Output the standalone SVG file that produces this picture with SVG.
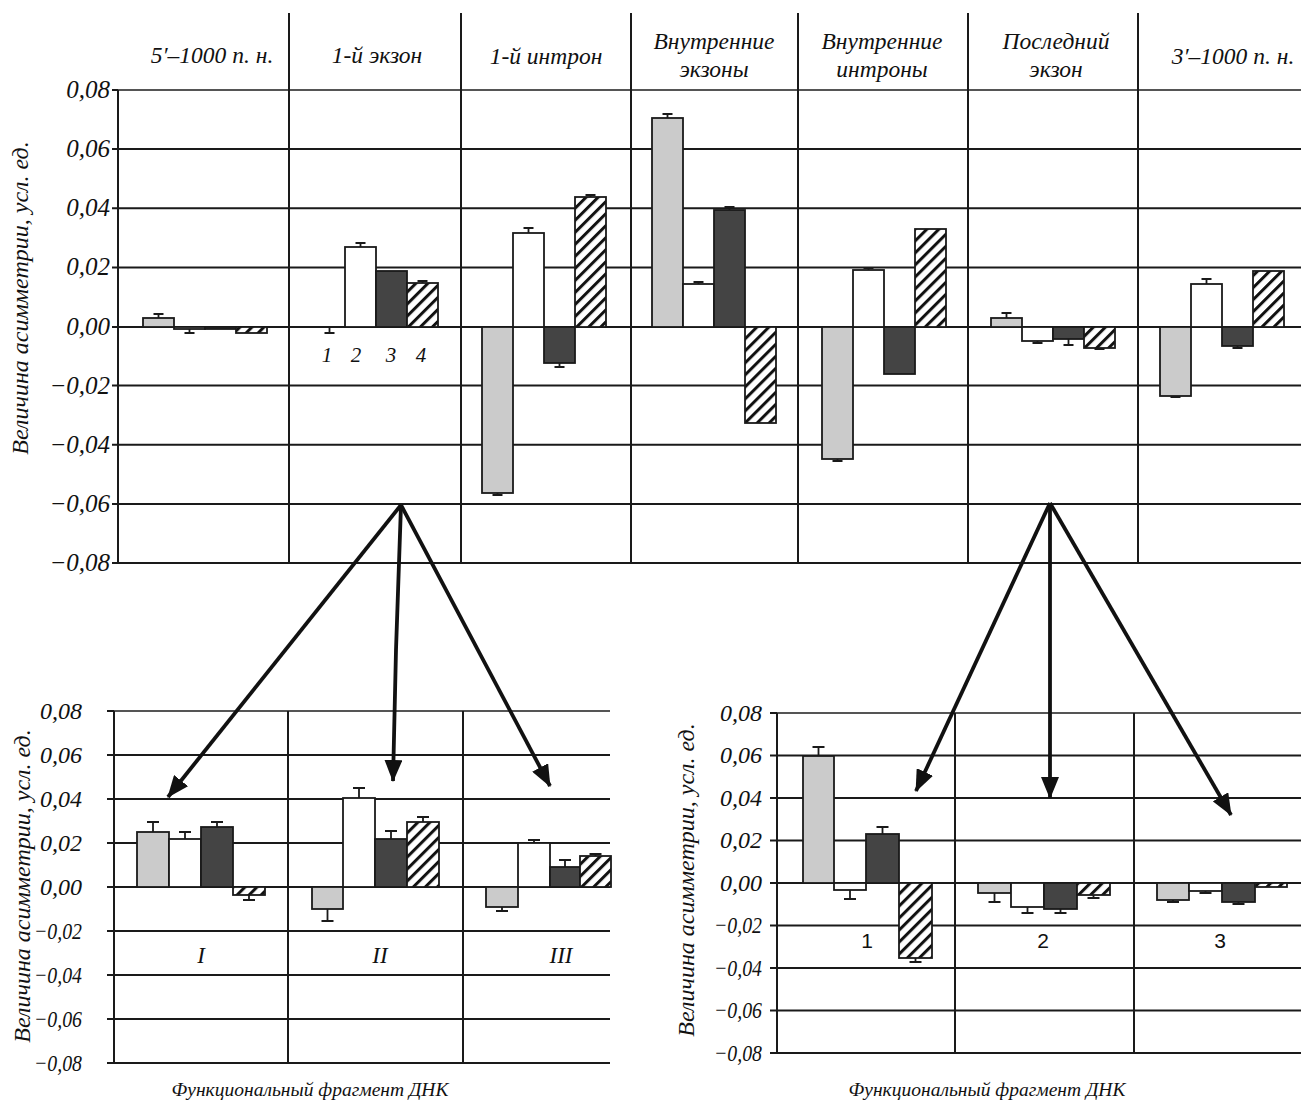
<svg xmlns="http://www.w3.org/2000/svg" width="1301" height="1103" viewBox="0 0 1301 1103" font-family="'Liberation Serif', 'DejaVu Serif', serif">
<defs>
<pattern id="hatch" patternUnits="userSpaceOnUse" width="8.5" height="8.5" patternTransform="rotate(45)">
<rect width="8.5" height="8.5" fill="#fff"/>
<rect x="0" y="0" width="3" height="8.5" fill="#111"/>
</pattern>
<marker id="ah" viewBox="0 0 22 18" refX="21" refY="9" markerWidth="22" markerHeight="18" markerUnits="userSpaceOnUse" orient="auto">
<path d="M0,0 L22,9 L0,18 Z" fill="#111"/>
</marker>
</defs>
<style>
.grid{stroke:#1a1a1a;stroke-width:2;fill:none}
.top{stroke:#555;stroke-width:1.8;fill:none}
.bar{stroke:#1a1a1a;stroke-width:1.8}
.g{fill:#cbcbcb}.w{fill:#fff}.d{fill:#444}.h{fill:url(#hatch)}
.err{stroke:#1a1a1a;stroke-width:1.8;fill:none}
.arr{stroke:#111;stroke-width:3.8;fill:none;marker-end:url(#ah)}
.it{font-family:'Liberation Serif','DejaVu Serif',serif;font-style:italic;fill:#111}
.hd{font-size:23.5px;text-anchor:middle}
.tk{font-size:25px;text-anchor:end}
.tkb{font-size:24px;text-anchor:end}
.ttl{font-size:24px;text-anchor:middle}
.xt{font-size:19.5px;text-anchor:middle}
.cat{font-size:21px;text-anchor:middle}
.rom{font-size:23px;text-anchor:middle}
.sans{font-family:'Liberation Sans','DejaVu Sans',sans-serif;font-style:normal;font-size:21px;text-anchor:middle;fill:#111}
</style>
<rect width="1301" height="1103" fill="#fff"/>

<g id="top-chart">
<g id="top-grid">
<path class="top" d="M118 90H1301"/>
<path class="grid" d="M118 149.1H1301M118 208.3H1301M118 267.4H1301M118 327H1301M118 385.6H1301M118 444.8H1301M118 503.9H1301M118 563H1301"/>
<path class="grid" d="M112 90H118M112 149.1H118M112 208.3H118M112 267.4H118M112 327H118M112 385.6H118M112 444.8H118M112 503.9H118M112 563H118"/>
<path class="grid" d="M118 90V563M289 13V563M461 13V563M631 13V563M798 13V563M968 13V563M1138 13V563"/>
</g>
<g id="top-headers">
<text class="it hd" x="212" y="63">5′–1000 п. н.</text>
<text class="it hd" x="377" y="63">1-й экзон</text>
<text class="it hd" x="546" y="64">1-й интрон</text>
<text class="it hd" x="714" y="49">Внутренние</text>
<text class="it hd" x="714" y="77">экзоны</text>
<text class="it hd" x="882" y="49">Внутренние</text>
<text class="it hd" x="882" y="77">интроны</text>
<text class="it hd" x="1056" y="49">Последний</text>
<text class="it hd" x="1056" y="77">экзон</text>
<text class="it hd" x="1233" y="64">3′–1000 п. н.</text>
</g>
<g id="top-ticks">
<text class="it tk" x="110" y="98">0,08</text>
<text class="it tk" x="110" y="157">0,06</text>
<text class="it tk" x="110" y="216">0,04</text>
<text class="it tk" x="110" y="275">0,02</text>
<text class="it tk" x="110" y="335">0,00</text>
<text class="it tk" x="110" y="394">−0,02</text>
<text class="it tk" x="110" y="453">−0,04</text>
<text class="it tk" x="110" y="512">−0,06</text>
<text class="it tk" x="110" y="571">−0,08</text>
<text class="it ttl" transform="translate(28,298) rotate(-90)">Величина асимметрии, усл. ед.</text>
</g>
<g id="top-bars">
<rect class="bar g" x="143" y="318" width="31" height="9"/>
<rect class="bar w" x="174" y="327" width="31" height="2"/>
<rect class="bar d" x="205" y="327" width="31" height="2"/>
<rect class="bar h" x="236" y="327" width="31" height="6"/>
<rect class="bar w" x="345" y="247" width="31" height="80"/>
<rect class="bar d" x="376" y="271" width="31" height="56"/>
<rect class="bar h" x="407" y="283" width="31" height="44"/>
<rect class="bar g" x="482" y="327" width="31" height="166"/>
<rect class="bar w" x="513" y="233" width="31" height="94"/>
<rect class="bar d" x="544" y="327" width="31" height="36"/>
<rect class="bar h" x="575" y="197" width="31" height="130"/>
<rect class="bar g" x="652" y="118" width="31" height="209"/>
<rect class="bar w" x="683" y="284" width="31" height="43"/>
<rect class="bar d" x="714" y="210" width="31" height="117"/>
<rect class="bar h" x="745" y="327" width="31" height="96"/>
<rect class="bar g" x="822" y="327" width="31" height="132"/>
<rect class="bar w" x="853" y="270" width="31" height="57"/>
<rect class="bar d" x="884" y="327" width="31" height="47"/>
<rect class="bar h" x="915" y="229" width="31" height="98"/>
<rect class="bar g" x="991" y="318" width="31" height="9"/>
<rect class="bar w" x="1022" y="327" width="31" height="14"/>
<rect class="bar d" x="1053" y="327" width="31" height="12"/>
<rect class="bar h" x="1084" y="327" width="31" height="21"/>
<rect class="bar g" x="1160" y="327" width="31" height="69"/>
<rect class="bar w" x="1191" y="284" width="31" height="43"/>
<rect class="bar d" x="1222" y="327" width="31" height="19"/>
<rect class="bar h" x="1253" y="271" width="31" height="56"/>
<path class="err" d="M158.5 318V314M153.5 314H163.5M189.5 329V333M184.5 333H194.5M329.5 327V333M324.5 333H334.5M360.5 247V243M355.5 243H365.5M422.5 283V281M417.5 281H427.5M497.5 493V495M492.5 495H502.5M528.5 233V228M523.5 228H533.5M559.5 363V367M554.5 367H564.5M590.5 197V195M585.5 195H595.5M667.5 118V114M662.5 114H672.5M698.5 284V282M693.5 282H703.5M729.5 210V207M724.5 207H734.5M837.5 459V461M832.5 461H842.5M868.5 270V268M863.5 268H873.5M1006.5 318V313M1001.5 313H1011.5M1037.5 341V343M1032.5 343H1042.5M1068.5 339V345M1063.5 345H1073.5M1099.5 348V349M1094.5 349H1104.5M1175.5 396V397M1170.5 397H1180.5M1206.5 284V279M1201.5 279H1211.5M1237.5 346V348M1232.5 348H1242.5"/>
</g>
<g id="top-series-labels">
<text class="it cat" x="327" y="362">1</text>
<text class="it cat" x="356" y="362">2</text>
<text class="it cat" x="391" y="362">3</text>
<text class="it cat" x="421" y="362">4</text>
</g>
</g>

<g id="bottom-left-chart">
<path class="top" d="M114 711H610"/>
<path class="grid" d="M114 755H610M114 799H610M114 843H610M114 887H610M114 931H610M114 975H610M114 1019H610M114 1063H610"/>
<path class="grid" d="M107 711H114M107 755H114M107 799H114M107 843H114M107 887H114M107 931H114M107 975H114M107 1019H114M107 1063H114"/>
<path class="grid" d="M114 711V1063M288 711V1063M463 711V1063"/>
<text class="it tkb" x="82" y="719">0,08</text>
<text class="it tkb" x="82" y="763">0,06</text>
<text class="it tkb" x="82" y="807">0,04</text>
<text class="it tkb" x="82" y="851">0,02</text>
<text class="it tkb" x="82" y="895">0,00</text>
<text class="it tkb" x="82" y="939" textLength="48" lengthAdjust="spacingAndGlyphs">−0,02</text>
<text class="it tkb" x="82" y="983" textLength="48" lengthAdjust="spacingAndGlyphs">−0,04</text>
<text class="it tkb" x="82" y="1027" textLength="48" lengthAdjust="spacingAndGlyphs">−0,06</text>
<text class="it tkb" x="82" y="1071" textLength="48" lengthAdjust="spacingAndGlyphs">−0,08</text>
<text class="it ttl" transform="translate(30,886) rotate(-90)">Величина асимметрии, усл. ед.</text>
<text class="it xt" x="310" y="1096">Функциональный фрагмент ДНК</text>
<rect class="bar g" x="137" y="832" width="32" height="55"/>
<rect class="bar w" x="169" y="839" width="32" height="48"/>
<rect class="bar d" x="201" y="827" width="32" height="60"/>
<rect class="bar h" x="233" y="887" width="32" height="8"/>
<rect class="bar g" x="312" y="887" width="31" height="22"/>
<rect class="bar w" x="343" y="798" width="32" height="89"/>
<rect class="bar d" x="375" y="839" width="32" height="48"/>
<rect class="bar h" x="407" y="822" width="32" height="65"/>
<rect class="bar g" x="486" y="887" width="32" height="20"/>
<rect class="bar w" x="518" y="843" width="32" height="44"/>
<rect class="bar d" x="550" y="867" width="30" height="20"/>
<rect class="bar h" x="580" y="856" width="31" height="31"/>
<path class="err" d="M153 832V822M147 822H159M185 839V832M179 832H191M217 827V822M211 822H223M249 895V900M243 900H255M327.5 909V921M321.5 921H333.5M359 798V788M353 788H365M391 839V831M385 831H397M423 822V817M417 817H429M502 907V911M496 911H508M534 843V840M528 840H540M565 867V860M559 860H571M595.5 856V854M589.5 854H601.5"/>
<text class="it rom" x="201" y="963">I</text>
<text class="it rom" x="380" y="963">II</text>
<text class="it rom" x="561" y="963">III</text>
</g>

<g id="bottom-right-chart">
<path class="top" d="M777 713H1301"/>
<path class="grid" d="M777 755.5H1301M777 798H1301M777 840.5H1301M777 925.5H1301M777 968H1301M777 1010.5H1301M777 1053H1301"/>
<path class="grid" d="M770 883H1301" stroke-width="3"/>
<path class="grid" d="M770 713H777M770 755.5H777M770 798H777M770 840.5H777M770 925.5H777M770 968H777M770 1010.5H777M770 1053H777"/>
<path class="grid" d="M777 713V1053M955 713V1053M1134 713V1053"/>
<text class="it tkb" x="762" y="721">0,08</text>
<text class="it tkb" x="762" y="763">0,06</text>
<text class="it tkb" x="762" y="806">0,04</text>
<text class="it tkb" x="762" y="848">0,02</text>
<text class="it tkb" x="762" y="891">0,00</text>
<text class="it tkb" x="762" y="933" textLength="48" lengthAdjust="spacingAndGlyphs">−0,02</text>
<text class="it tkb" x="762" y="976" textLength="48" lengthAdjust="spacingAndGlyphs">−0,04</text>
<text class="it tkb" x="762" y="1018" textLength="48" lengthAdjust="spacingAndGlyphs">−0,06</text>
<text class="it tkb" x="762" y="1061" textLength="48" lengthAdjust="spacingAndGlyphs">−0,08</text>
<text class="it ttl" transform="translate(694,880) rotate(-90)">Величина асимметрии, усл. ед.</text>
<text class="it xt" x="987" y="1096">Функциональный фрагмент ДНК</text>
<rect class="bar g" x="803" y="756" width="31" height="127"/>
<rect class="bar w" x="834" y="883" width="32" height="7"/>
<rect class="bar d" x="866" y="834" width="33" height="49"/>
<rect class="bar h" x="899" y="883" width="33" height="75"/>
<rect class="bar g" x="978" y="883" width="33" height="10"/>
<rect class="bar w" x="1011" y="883" width="33" height="24"/>
<rect class="bar d" x="1044" y="883" width="33" height="26"/>
<rect class="bar h" x="1077" y="883" width="33" height="12"/>
<rect class="bar g" x="1157" y="883" width="32" height="17"/>
<rect class="bar w" x="1189" y="883" width="33" height="8"/>
<rect class="bar d" x="1222" y="883" width="33" height="19"/>
<rect class="bar h" x="1255" y="883" width="32" height="4"/>
<path class="err" d="M818.5 756V747M812.5 747H824.5M850 890V899M844 899H856M882.5 834V827M876.5 827H888.5M915.5 958V962M909.5 962H921.5M994.5 893V902M988.5 902H1000.5M1027.5 907V913M1021.5 913H1033.5M1060.5 909V913M1054.5 913H1066.5M1093.5 895V898M1087.5 898H1099.5M1173 900V902M1167 902H1179M1205.5 891V893M1199.5 893H1211.5M1238.5 902V904M1232.5 904H1244.5"/>
<text class="sans" x="867" y="948">1</text>
<text class="sans" x="1043" y="948">2</text>
<text class="sans" x="1220" y="948">3</text>
</g>

<g id="connectors">
<path class="arr" d="M401 505L168 797"/>
<path class="arr" d="M401 505L396 650L393 781"/>
<path class="arr" d="M401 505L550 786"/>
<path class="arr" d="M1050 503L916 791"/>
<path class="arr" d="M1050 503L1050 798"/>
<path class="arr" d="M1050 503L1231 815"/>
</g>
</svg>
